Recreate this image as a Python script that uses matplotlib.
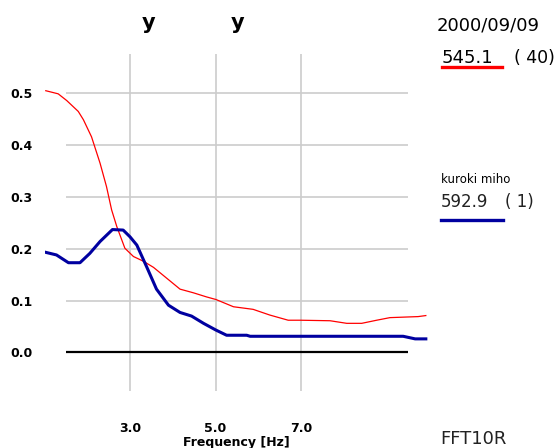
import matplotlib
matplotlib.use("Agg")
import matplotlib.pyplot as plt

# ---- data ----
red_freq = [1.03, 1.32, 1.52, 1.79, 1.91, 2.10, 2.30, 2.45, 2.57, 2.69, 2.88, 3.08,
            3.31, 3.55, 3.86, 4.17, 4.48, 4.79, 5.01, 5.42, 5.88, 6.27, 6.70, 6.98,
            7.68, 8.07, 8.42, 8.77, 9.08, 9.74, 9.92]
red_vals = [0.505, 0.499, 0.486, 0.465, 0.449, 0.416, 0.365, 0.320, 0.275, 0.243, 0.201, 0.185,
            0.176, 0.164, 0.143, 0.122, 0.115, 0.107, 0.102, 0.088, 0.083, 0.072, 0.062, 0.062,
            0.061, 0.056, 0.056, 0.062, 0.067, 0.069, 0.071]
blue_freq = [1.03, 1.28, 1.56, 1.83, 2.06, 2.30, 2.59, 2.84, 3.00, 3.16, 3.39, 3.62,
             3.90, 4.17, 4.44, 4.72, 5.01, 5.26, 5.73, 5.81, 9.39, 9.67, 9.92]
blue_vals = [0.193, 0.188, 0.173, 0.173, 0.191, 0.214, 0.237, 0.236, 0.223, 0.207, 0.165, 0.122,
             0.091, 0.077, 0.070, 0.056, 0.043, 0.033, 0.033, 0.031, 0.031, 0.026, 0.026]
xtick_vals = [3.0, 5.0, 7.0]
xtick_labels = ["3.0", "5.0", "7.0"]
ytick_vals = [0.0, 0.1, 0.2, 0.3, 0.4, 0.5]
ytick_labels = ["0.0", "0.1", "0.2", "0.3", "0.4", "0.5"]
xlabel = "Frequency [Hz]"
date_text = "2000/09/09"
red_value, red_count = "545.1", "( 40)"
blue_name, blue_value, blue_count = "kuroki miho", "592.9", "( 1)"
footer = "FFT10R"

W, H = 558, 448
fig = plt.figure(figsize=(W / 100, H / 100), dpi=100)
fig.patch.set_facecolor("white")

# axes: x 1.0..10.0 Hz -> px 44.5..429.25 ; y -0.075..0.575 -> px 391.2..54.45
ax = fig.add_axes([44.5 / W, (H - 391.2) / H, (429.25 - 44.5) / W, (391.2 - 54.45) / H])
ax.set_xlim(1.0, 10.0)
ax.set_ylim(-0.075, 0.575)
for s in ax.spines.values():
    s.set_visible(False)
ax.set_facecolor("white")

grid_c = "#cccccc"
for xv in xtick_vals:
    ax.axvline(xv, color=grid_c, lw=1.2, zorder=1)
for yv in ytick_vals[1:]:
    ax.hlines(yv, 1.5, 9.5, color=grid_c, lw=1.2, zorder=1)
ax.hlines(0.0, 1.5, 9.5, color="black", lw=1.6, zorder=2)

ax.plot(red_freq, red_vals, color="#ff0000", lw=0.9, zorder=3)
ax.plot(blue_freq, blue_vals, color="#0000a0", lw=2.2, zorder=4)

ax.set_yticks(ytick_vals, ytick_labels, fontsize=9, fontweight="bold")
ax.set_xticks(xtick_vals, xtick_labels, fontsize=9, fontweight="bold")
ax.tick_params(axis="y", length=0, pad=8.3)
ax.tick_params(axis="x", length=0, pad=22.5)

def px(x, y):
    return x / W, 1 - y / H

fig.text(*px(236.6, 446), xlabel, fontsize=9, fontweight="bold", ha="center", va="baseline")

fig.text(*px(149, 29), "y", fontsize=15, fontweight="bold", ha="center", va="baseline")
fig.text(*px(238, 29), "y", fontsize=15, fontweight="bold", ha="center", va="baseline")

fig.text(*px(437, 31), date_text, fontsize=13, ha="left", va="baseline")
fig.text(*px(442, 63), red_value, fontsize=13, ha="left", va="baseline")
fig.text(*px(514, 63), red_count, fontsize=12.5, ha="left", va="baseline")
fig.add_artist(plt.Line2D([441.7 / W, 502 / W], [1 - 67.5 / H] * 2, color="#ff0000", lw=2.4,
                          transform=fig.transFigure))

fig.text(*px(441, 183), blue_name, fontsize=8.5, ha="left", va="baseline")
fig.text(*px(441, 207), blue_value, fontsize=12, ha="left", va="baseline", color="#222222")
fig.text(*px(505, 207), blue_count, fontsize=12, ha="left", va="baseline", color="#222222")
fig.add_artist(plt.Line2D([441 / W, 502.7 / W], [1 - 220 / H] * 2, color="#0000a0", lw=2.4,
                          transform=fig.transFigure))

fig.text(*px(440, 444), footer, fontsize=13, ha="left", va="baseline",
         family=["Liberation Sans Narrow", "DejaVu Sans"], color="#222222")

fig.savefig("out.png", dpi=100, facecolor="white")
